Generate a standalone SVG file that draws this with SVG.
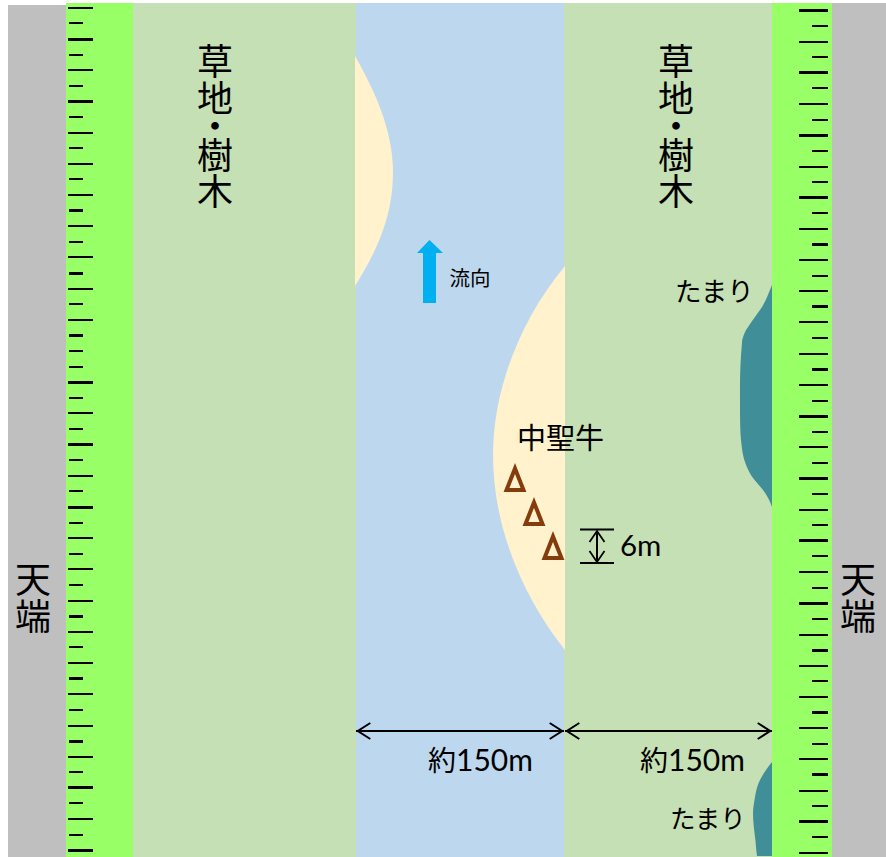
<svg xmlns="http://www.w3.org/2000/svg" width="886" height="857" viewBox="0 0 886 857">
<style>
text{font-family:"Lato","Noto Sans CJK JP",sans-serif;fill:#000}
.v{font-size:36px;text-anchor:middle}
.t{stroke:#000;stroke-width:2;fill:none;shape-rendering:crispEdges}
.T{stroke:#000;stroke-width:3;fill:none;shape-rendering:crispEdges}
.d{stroke:#000;stroke-width:2;fill:none}
.tri{fill:none;stroke:#843C0C;stroke-width:4;stroke-miterlimit:10}
.n{font-size:30px}
</style>
<defs>
<marker id="open" markerUnits="userSpaceOnUse" markerWidth="18" markerHeight="20" refX="15.8" refY="10" orient="auto-start-reverse" viewBox="0 0 18 20"><path d="M1.5 2L14 10L1.5 18" fill="none" stroke="#000" stroke-width="2"/></marker>
<marker id="open2" markerUnits="userSpaceOnUse" markerWidth="14" markerHeight="18" refX="12" refY="9" orient="auto-start-reverse" viewBox="0 0 14 18"><path d="M1 1.5L12 9L1 16.5" fill="none" stroke="#000" stroke-width="1.8"/></marker>
</defs>
<rect width="886" height="857" fill="#fff"/>
<g id="terrace-left"><rect x="8" y="5" width="58" height="852" fill="#BFBFBF"/><text x="33" y="593" class="v">天</text><text x="33" y="630" class="v">端</text></g>
<g id="terrace-right"><rect x="832" y="3" width="54" height="854" fill="#BFBFBF"/><text x="858" y="593" class="v">天</text><text x="858" y="630" class="v">端</text></g>
<g id="levee-left"><rect x="66" y="3" width="67" height="854" fill="#99FF66"/>
<path class="t" d="M68 8H93M69 23H83M69 55H83M68 70H93M69 86H83M69 117H83M68 133H93M69 148H83M68 164H93M69 179H83M68 195H93M68 226H93M69 242H83M68 257H93M68 289H93M69 304H83M68 320H93M69 351H83M69 367H83M69 398H83M68 413H93M69 429H83M69 460H83M68 476H93M69 491H83M69 523H83M68 538H93M69 554H83M68 569H93M69 585H83M68 601H93M68 632H93M69 647H83M68 663H93M68 694H93M69 710H83M68 726H93M68 757H93M69 772H83M69 803H83M68 819H93M69 835H83"/>
<path class="T" d="M68 39.5H93M68 101.5H93M69 210.5H83M69 273.5H83M69 335.5H83M68 382.5H93M68 444.5H93M68 507.5H93M69 616.5H83M69 678.5H83M69 741.5H83M68 787.5H93M68 850.5H93"/>
</g>
<g id="grass-left"><rect x="133" y="3" width="223" height="854" fill="#C5E0B4"/>
<text class="v"><tspan x="215" y="75">草</tspan><tspan x="215" y="112">地</tspan><tspan x="215" y="140">・</tspan><tspan x="215" y="169">樹</tspan><tspan x="215" y="205">木</tspan></text></g>
<g id="river"><rect x="356" y="3" width="208" height="854" fill="#BDD7EE"/></g>
<g id="grass-right"><rect x="564" y="3" width="208" height="854" fill="#C5E0B4"/>
<text class="v"><tspan x="676" y="75">草</tspan><tspan x="676" y="112">地</tspan><tspan x="676" y="140">・</tspan><tspan x="676" y="169">樹</tspan><tspan x="676" y="205">木</tspan></text></g>
<g id="bar-upper"><path d="M355 56C373 88 393 128 393 173C393 218 375 254 355 286Z" fill="#FFF2CC"/></g>
<g id="bar-lower"><path d="M565 266C520 320 493 390 493 455C493 530 525 600 565 650Z" fill="#FFF2CC"/></g>
<g id="flow"><path d="M423 303V253H417L429.5 240L443 253H436V303Z" fill="#00B0F0"/><text x="449.5" y="286" font-size="20.5">流向</text></g>
<g id="pool-upper"><path d="M772 285C767 297 765 303 760 310C754 318 750 324 746 330C743 336 742 340 742 343C740 365 740 380 740 397C740 415 740 428 741 440C742 450 743 456 745 462C747 468 750 474 753 478C757 483 760 486 763 490C767 495 770 501 772 507Z" fill="#3F8E98"/><text x="675" y="301" font-size="26.5">たまり</text></g>
<g id="pool-lower"><path d="M772 762C767 768 763 774 760 780C757 786 756 791 755 797C754 803 753 808 753 813C753 821 754 829 755 837C756 844 756 850 757 856H772Z" fill="#3F8E98"/><text x="670" y="828" font-size="25.5">たまり</text></g>
<g id="seigyu"><text x="517" y="449" font-size="29">中聖牛</text>
<path class="tri" d="M515 468.4L523.5 490H506.5Z"/><path class="tri" d="M534 502.4L542.5 524H525.5Z"/><path class="tri" d="M553 536.4L561.5 558H544.5Z"/></g>
<g id="levee-right"><rect x="772" y="3" width="60" height="854" fill="#99FF66"/>
<path class="t" d="M812 26H828M799 42H828M812 57H828M812 88H828M799 104H828M812 120H828M812 151H828M799 167H828M812 182H828M812 213H828M799 229H828M799 260H828M812 276H828M799 291H828M799 322H828M812 338H828M799 354H828M799 385H828M812 401H828M812 432H828M799 447H828M812 463H828M812 494H828M799 510H828M812 525H828M812 556H828M799 572H828M812 588H828M812 619H828M799 635H828M799 666H828M812 681H828M799 697H828M799 728H828M812 744H828M799 759H828M799 791H828M812 806H828M812 837H828M799 853H828"/>
<path class="T" d="M799 10.5H828M799 72.5H828M799 135.5H828M799 197.5H828M812 244.5H828M812 306.5H828M812 369.5H828M799 416.5H828M799 478.5H828M799 540.5H828M799 603.5H828M812 650.5H828M812 712.5H828M812 774.5H828M799 821.5H828"/>
</g>
<g id="connectors">
<path class="d" d="M356 731H564" marker-start="url(#open)" marker-end="url(#open)"/>
<path class="d" d="M565 731H772" marker-start="url(#open)" marker-end="url(#open)"/>
<path class="d" d="M580 529.5H614M580 563H614" stroke-width="2.5"/>
<path class="d" d="M597 531V562" marker-start="url(#open2)" marker-end="url(#open2)"/>
</g>
<g id="labels"><text x="620" y="556" font-size="29.5">6m</text><text x="428" y="771" font-size="28">約<tspan class="n">150m</tspan></text><text x="640" y="771" font-size="28">約<tspan class="n">150m</tspan></text></g>
</svg>
